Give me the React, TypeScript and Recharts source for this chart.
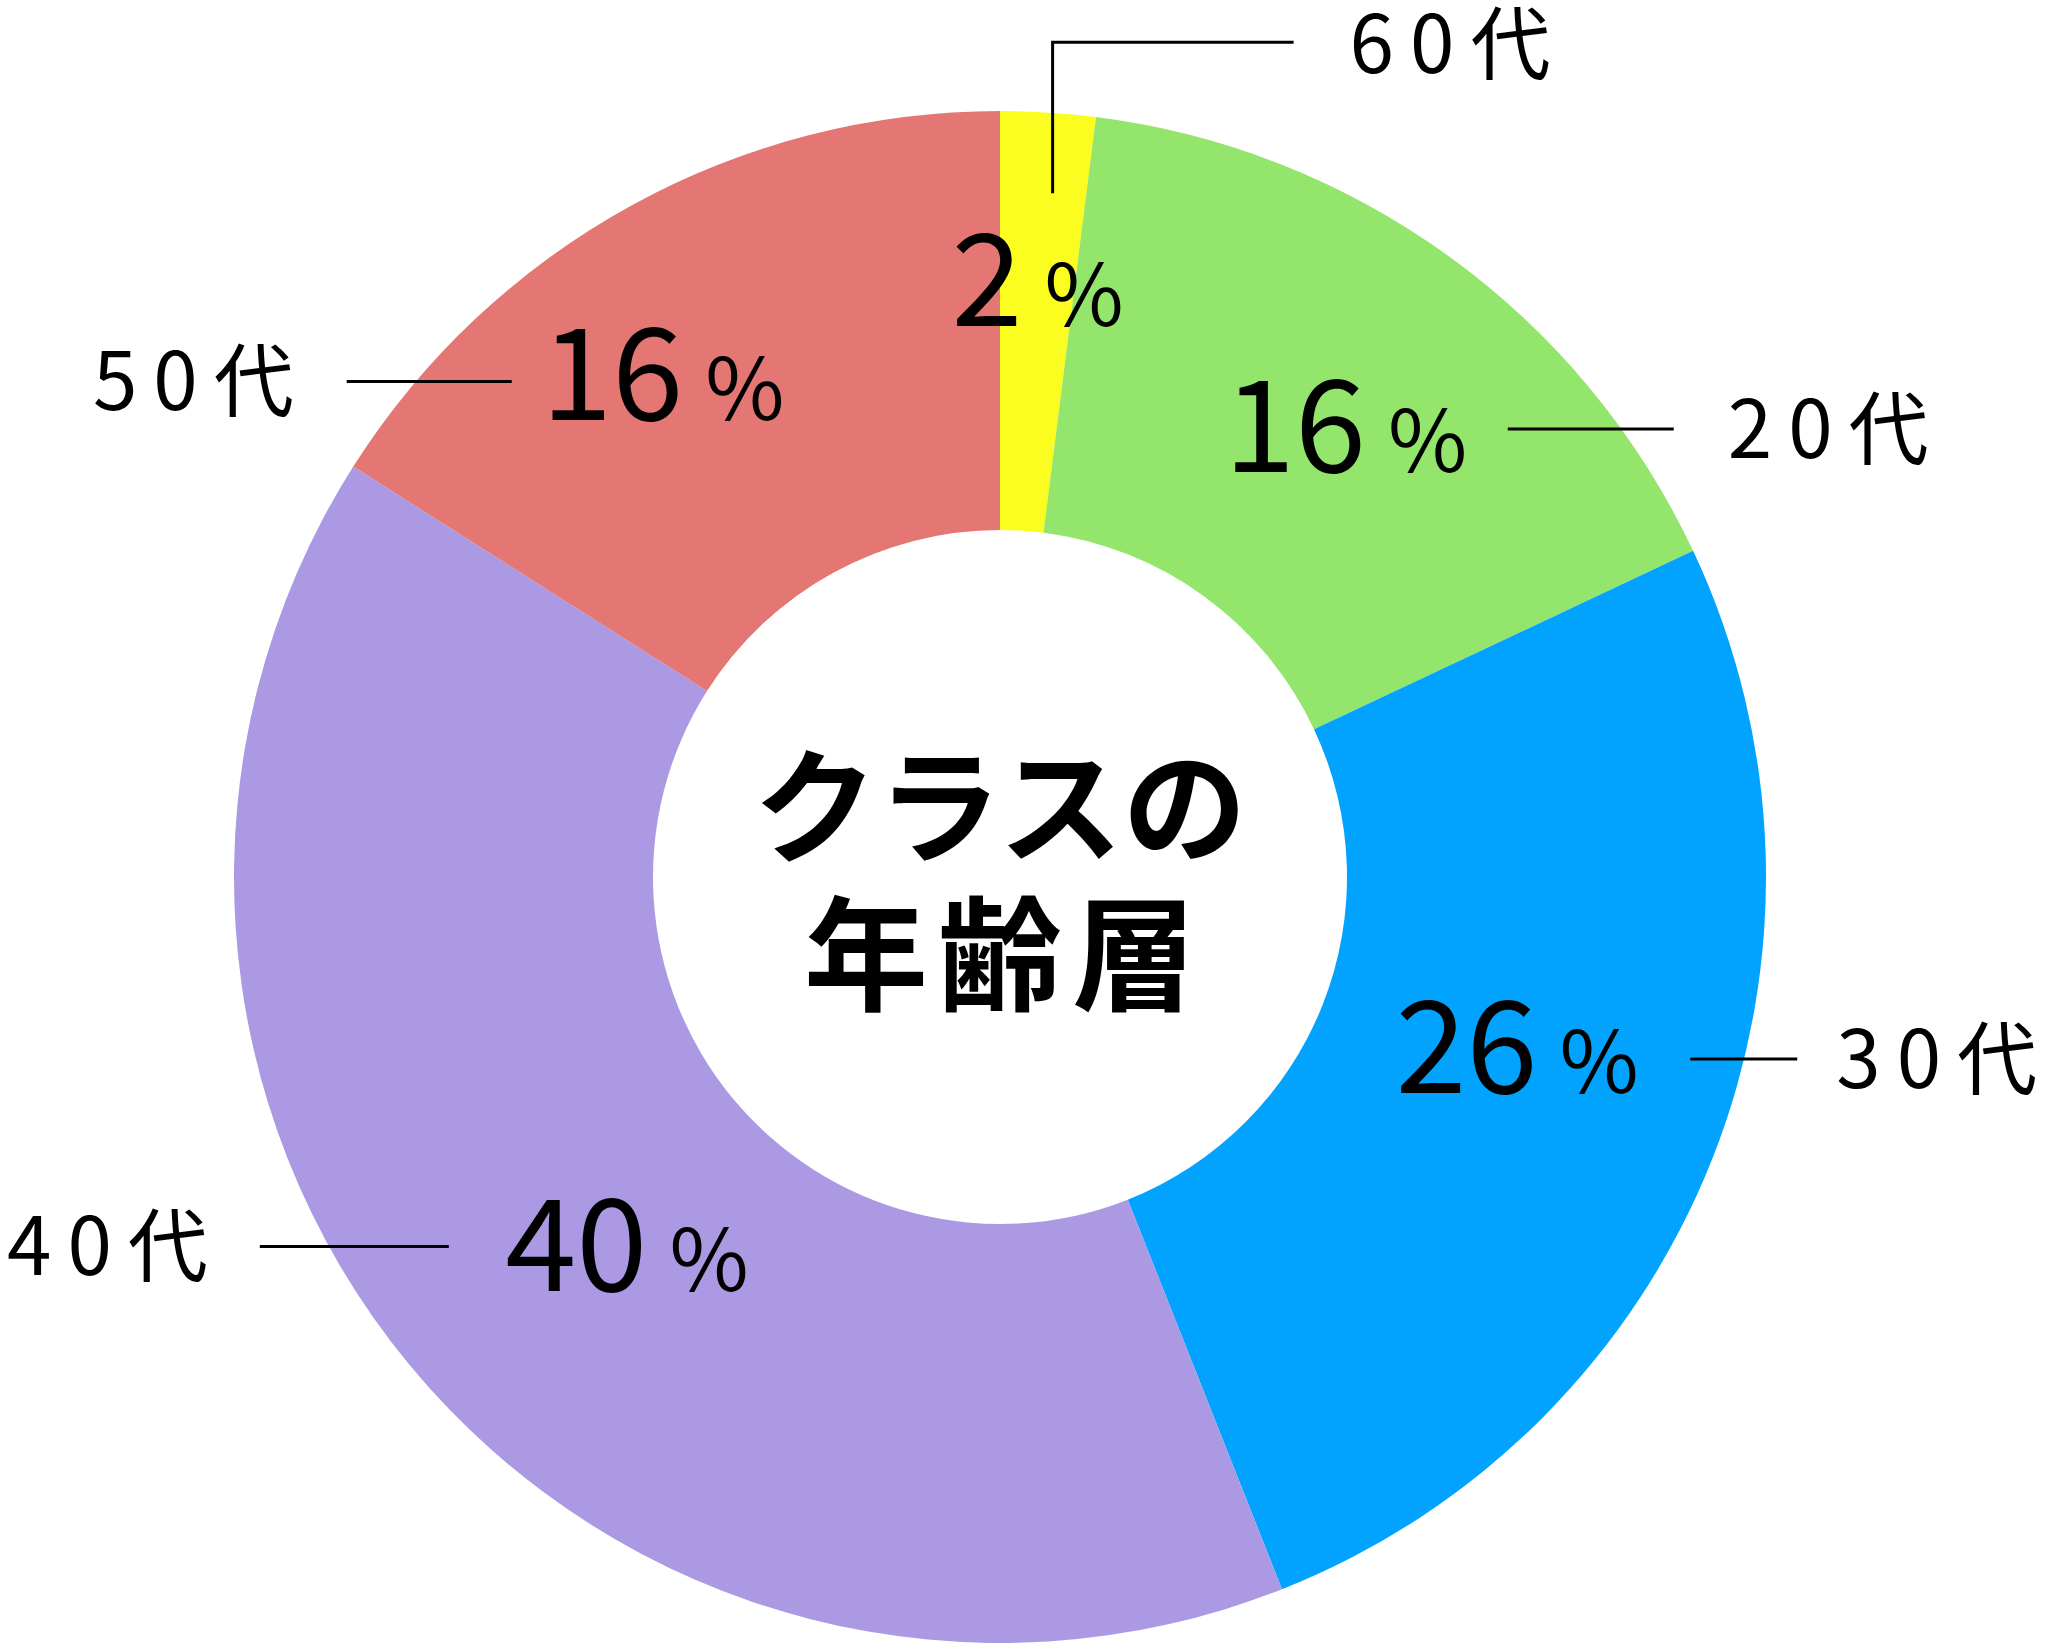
import { PieChart, Pie, Cell } from "recharts";

// age groups, clockwise from 12 o'clock
const groups = ["60代", "20代", "30代", "40代", "50代"];
const shares = [2, 16, 26, 40, 16];
const colors = ["#fbfc1f", "#94e56c", "#02a3fe", "#ab9ae3", "#e47674"];
const titleLines = ["クラスの", "年齢層"];

// where each percent label sits: distance from centre and a small angle nudge (deg)
const pctRadius = [599, 569, 544, 523, 606];
const pctShift = [0, -1.4, 3.5, 4.9, 5];
// leader lines: gap from the percent label, length, vertical nudge, gap to the name
const leaderGap = [0, 44, 55, 60, 33];
const leaderLen = [241, 166, 107, 189, 165];
const leaderDy = [0, 4, 13, 3, 8];
const nameGap = [56, 54, 39, 52, 53];

const data = groups.map((name, i) => ({ name, value: shares[i] }));

const CX = 1000;
const CY = 877;
const FONT = '"Noto Sans CJK JP", "Noto Sans", sans-serif';
const RAD = Math.PI / 180;
const NUM_SIZE = 128;
const PCT_SIZE = 86;
const CAT_SIZE = 80;
const CAT_SPACING = 16;

// spaced-out digits, no trailing space after the last glyph
function spaced(name: string) {
  return (
    <>
      <tspan letterSpacing={CAT_SPACING}>{name.slice(0, -1)}</tspan>
      <tspan>{name.slice(-1)}</tspan>
    </>
  );
}

function renderLabel(props: any) {
  const { cx, cy, midAngle, index, value, name } = props;
  const a = (midAngle + pctShift[index]) * RAD;
  const px = cx + pctRadius[index] * Math.cos(a);
  const py = cy - pctRadius[index] * Math.sin(a);
  const digits = String(value);
  const halfW = (digits.length * 0.555 * NUM_SIZE + 22 + 0.84 * PCT_SIZE) / 2;

  const pct = (
    <text x={px} y={py + 0.367 * NUM_SIZE} textAnchor="middle" fontFamily={FONT} fill="#000">
      <tspan fontSize={NUM_SIZE}>{digits}</tspan>
      <tspan fontSize={PCT_SIZE} dx={22}>%</tspan>
    </text>
  );

  const catBase = 0.36 * CAT_SIZE;
  if (index === 0) {
    // small slice: elbow line going up then right
    const lx = px + 15;
    const top = py - 237;
    const end = lx + leaderLen[index];
    return (
      <g key={`l-${index}`}>
        {pct}
        <polyline points={`${lx},${py - 86} ${lx},${top} ${end},${top}`} fill="none" stroke="#000" strokeWidth={3} />
        <text x={end + nameGap[index]} y={top + catBase + 2} fontFamily={FONT} fontSize={CAT_SIZE} fill="#000">
          {spaced(name)}
        </text>
      </g>
    );
  }

  const right = Math.cos(midAngle * RAD) >= 0;
  const ly = py + leaderDy[index];
  const x1 = right ? px + halfW + leaderGap[index] : px - halfW - leaderGap[index];
  const x2 = right ? x1 + leaderLen[index] : x1 - leaderLen[index];
  return (
    <g key={`l-${index}`}>
      {pct}
      <line x1={x1} y1={ly} x2={x2} y2={ly} stroke="#000" strokeWidth={3} />
      <text
        x={right ? x2 + nameGap[index] : x2 - nameGap[index]}
        y={ly + catBase}
        textAnchor={right ? "start" : "end"}
        fontFamily={FONT}
        fontSize={CAT_SIZE}
        fill="#000"
      >
        {spaced(name)}
      </text>
    </g>
  );
}

export default function App() {
  return (
    <div style={{ position: "relative", width: 2045, height: 1645, background: "#fff" }}>
      <style>{"body{margin:0}"}</style>
      <PieChart width={2045} height={1645} margin={{ top: 0, right: 0, bottom: 0, left: 0 }}>
        <Pie
          data={data}
          dataKey="value"
          nameKey="name"
          cx={CX}
          cy={CY}
          innerRadius={347}
          outerRadius={766}
          startAngle={90}
          endAngle={-270}
          stroke="none"
          label={renderLabel}
          labelLine={false}
          isAnimationActive={false}
        >
          {data.map((d, i) => (
            <Cell key={d.name} fill={colors[i]} />
          ))}
        </Pie>
      </PieChart>
      <svg width={2045} height={1645} style={{ position: "absolute", left: 0, top: 0, pointerEvents: "none" }}>
        <text x={CX} y={CY - 24} textAnchor="middle" fontFamily={FONT} fontWeight={700} fontSize={124} fill="#000">
          {titleLines[0]}
        </text>
        <text x={CX + 5} y={CY + 124} textAnchor="middle" fontFamily={FONT} fontWeight={700} fontSize={124} letterSpacing={10} fill="#000">
          {titleLines[1]}
        </text>
      </svg>
    </div>
  );
}
